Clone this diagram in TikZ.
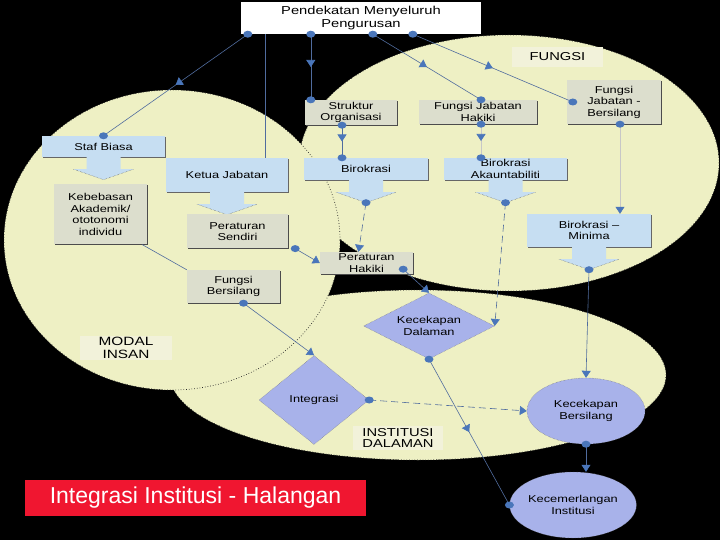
\documentclass[tikz,border=0pt]{standalone}
\usepackage{fontspec}
\setmainfont{Liberation Sans}
\newfontfamily\diagfont{Liberation Sans}[FakeStretch=1.28]
\usepackage{tikz}
\usetikzlibrary{arrows.meta,positioning,calc,shapes.geometric,shadows,decorations.markings}
\definecolor{bgyellow}{RGB}{238,240,196}
\definecolor{boxgray}{RGB}{220,222,205}
\definecolor{boxblue}{RGB}{198,222,242}
\definecolor{shapeblue}{RGB}{168,178,234}
\definecolor{dotblue}{RGB}{74,118,186}
\definecolor{linecol}{RGB}{80,108,158}
\definecolor{lblfill}{RGB}{242,242,218}
\definecolor{alertred}{RGB}{240,22,48}
% block arrow under a box: #1 top centre, #2 name of the tip
\newcommand{\blockarr}[2]{%
  \fill[boxblue] (#1) ++(-17,0.5) -- ++(34,0) -- ++(0,-12.5) -- ++(13,0) -- ++(-30,-10.5)
    -- ++(-30,10.5) -- ++(13,0) -- cycle;
  \draw[densely dotted,black!70] (#1) ++(-30,-12) -- ++(30,-10.5) coordinate (#2) -- ++(30,10.5);}
\newcommand{\dotat}[1]{\fill[dotblue] (#1) ellipse [x radius=4.5, y radius=3.5];}

\begin{document}
\begin{tikzpicture}[x=1pt,y=1pt,
  font=\diagfont\fontsize{10}{11.5}\selectfont,
  box/.style={align=center,inner sep=1pt,text=black},
  grey/.style={box,fill=boxgray,drop shadow={shadow xshift=.8pt,shadow yshift=-.8pt,fill=black!70,opacity=1}},
  bbox/.style={box,fill=boxblue,drop shadow={shadow xshift=.8pt,shadow yshift=-.8pt,fill=black!60,opacity=1}},
  lbl/.style={box,fill=lblfill},
  dia/.style={box,diamond,aspect=2,inner sep=0pt,fill=shapeblue,draw=black!60,densely dotted},
  ell/.style={box,ellipse,inner sep=0pt,fill=shapeblue,draw=black!60,densely dotted},
  zone/.style={draw=black!85,dotted,line width=.7pt},
  >={Triangle[width=9pt,length=7pt,color=dotblue]},
  conn/.style={draw=linecol,line width=.6pt},
  faint/.style={draw=black!22,line width=.6pt},
  dashline/.style={dash pattern=on 7pt off 4pt},
  mid/.style={postaction={decorate,decoration={markings,mark=at position .5 with {\arrow{>}}}}}
]
\fill[black] (0,0) rectangle (720,-540);
\useasboundingbox (0,0) rectangle (720,-540);

% the three areas
\fill[bgyellow] (509,-163) ellipse [x radius=210, y radius=128];
\draw[zone] (509,-163) ellipse [x radius=210, y radius=128];
\fill[bgyellow] (418,-375) ellipse [x radius=248, y radius=85];
\draw[zone] (418,-375) ellipse [x radius=248, y radius=85];
\fill[bgyellow] (172,-240) ellipse [x radius=168, y radius=150];
\draw[zone] (172,-240) ellipse [x radius=168, y radius=150];

\node[box,fill=white,minimum width=240pt,minimum height=32pt,
      font=\diagfont\fontsize{11.5}{13}\selectfont] (pend) at (361,-18) {Pendekatan Menyeluruh\\Pengurusan};
\node[lbl,minimum width=91pt,minimum height=20pt,font=\diagfont\fontsize{11.5}{13}\selectfont] (fungsi) at (557.5,-57) {FUNGSI};
\node[grey,minimum width=92pt,minimum height=25pt] (struktur) at (351,-112.5) {Struktur\\Organisasi};
\node[grey,minimum width=118pt,minimum height=24pt] (fjhakiki) at (478,-112) {Fungsi Jabatan\\Hakiki};
\node[grey,minimum width=94pt,minimum height=44pt] (fjbersilang) at (614,-102) {Fungsi\\Jabatan -\\Bersilang};
\node[bbox,minimum width=123pt,minimum height=21pt] (staf) at (103.5,-146.5) {Staf Biasa};
\node[bbox,minimum width=122pt,minimum height=34pt] (ketua) at (227,-175) {Ketua Jabatan};
\node[bbox,minimum width=124pt,minimum height=22pt] (birokrasi) at (366,-169) {Birokrasi};
\node[bbox,minimum width=123pt,minimum height=22pt] (akaun) at (505.5,-169) {Birokrasi\\Akauntabiliti};
\node[bbox,minimum width=124pt,minimum height=33pt] (minima) at (589,-230.5) {Birokrasi –\\Minima};

\blockarr{staf.south}{t1}
\blockarr{ketua.south}{t2}
\blockarr{birokrasi.south}{t3}
\blockarr{akaun.south}{t4}
\blockarr{minima.south}{t5}

\node[grey,minimum width=93pt,minimum height=60pt,below=27pt of staf,xshift=-3pt] (kebebasan) {Kebebasan\\Akademik/\\ototonomi\\individu};
\node[grey,minimum width=101pt,minimum height=34pt,below=22pt of ketua,xshift=10.5pt] (psendiri) {Peraturan\\Sendiri};
\node[grey,minimum width=93pt,minimum height=22pt] (phakiki) at (366.5,-263) {Peraturan\\Hakiki};
\node[grey,minimum width=93pt,minimum height=33pt] (fbersilang) at (233.5,-286.5) {Fungsi\\Bersilang};
\node[dia,minimum width=131pt,minimum height=66pt] (kdalaman) at (429,-326) {Kecekapan\\Dalaman};
\node[dia,minimum width=110pt,minimum height=89pt] (integrasi) at (314,-400) {Integrasi};
\node[ell,minimum width=118pt,minimum height=66pt] (kbersilang) at (586,-411) {Kecekapan\\Bersilang};
\node[ell,minimum width=124pt,minimum height=66pt] (kcemerlang) at (573,-505) {Kecemerlangan\\Institusi};
\node[lbl,minimum width=92pt,minimum height=22pt,font=\diagfont\fontsize{12}{12.7}\selectfont] (modal) at (126,-348) {MODAL\\INSAN};
\node[lbl,minimum width=90pt,minimum height=24pt,font=\diagfont\fontsize{11.5}{11.7}\selectfont] (institusi) at (398,-438) {INSTITUSI\\DALAMAN};
\node[fill=alertred,text=white,minimum width=341pt,minimum height=36pt,inner sep=0pt,
      font=\normalfont\fontsize{23}{26}\selectfont] (halangan) at (195.5,-498) {Integrasi Institusi - Halangan};

% connectors
\coordinate (p1) at ([xshift=7pt]pend.south west);
\coordinate (p2) at ([xshift=70pt]pend.south west);
\coordinate (p3) at ([xshift=132pt]pend.south west);
\coordinate (p4) at ([xshift=172pt]pend.south west);
\coordinate (p5) at ([xshift=24pt]pend.south west);
\coordinate (s0) at (p2 |- struktur.north);
\coordinate (h0) at ([xshift=3pt]fjhakiki.north);
\coordinate (b0) at ([xshift=6pt]fjbersilang.west);
\coordinate (s1) at ([xshift=-9pt]struktur.south);
\coordinate (s2) at (s1 |- birokrasi.north);
\coordinate (h1) at ([xshift=3pt]fjhakiki.south);
\coordinate (h2) at (h1 |- akaun.north);
\coordinate (b1) at ([xshift=6pt]fjbersilang.south);
\coordinate (r1) at ([xshift=7pt]psendiri.south east);
\coordinate (r2) at ([xshift=-10pt,yshift=5pt]phakiki.south east);
\coordinate (r3) at ([xshift=10pt]fbersilang.south);

\draw[conn,mid] (p1) -- (staf.north);
\draw[conn,mid] (p2) -- (s0);
\draw[conn,mid] (p3) -- (h0);
\draw[conn,mid] (p4) -- (b0);
\draw[conn] (p5) -- (p5 |- ketua.north);
\draw[conn,mid] (s1) -- (s2);
\draw[faint,mid] (h1) -- (h2);
\draw[faint,->] (b1) -- (b1 |- minima.north);
\draw[conn] ([xshift=-5pt]kebebasan.south east) -- (fbersilang.north west);
\draw[conn,->] (r1) -- (phakiki.west);
\draw[conn,dashline,->] (t3) -- ([xshift=-8pt]phakiki.north);
\draw[conn,->] (r2) -- (kdalaman.north);
\draw[conn,dashline,->] (t4) -- (kdalaman.east);
\draw[conn,->] (t5) -- (kbersilang.north);
\draw[conn,->] (r3) -- (integrasi.north);
\draw[conn,dashline,->] (integrasi.east) -- (kbersilang.west);
\draw[conn,->] (kbersilang.south) -- (kbersilang.south |- kcemerlang.north);
\draw[conn,mid] (kdalaman.south) -- (kcemerlang.west);

\foreach \d in {p1,p2,p3,p4,staf.north,s0,h0,b0,s1,s2,h1,h2,b1,t3,t4,t5,r1,r2,r3,
                integrasi.east,kbersilang.south,kdalaman.south,kcemerlang.west}
  {\dotat{\d}}
\end{tikzpicture}
\end{document}
